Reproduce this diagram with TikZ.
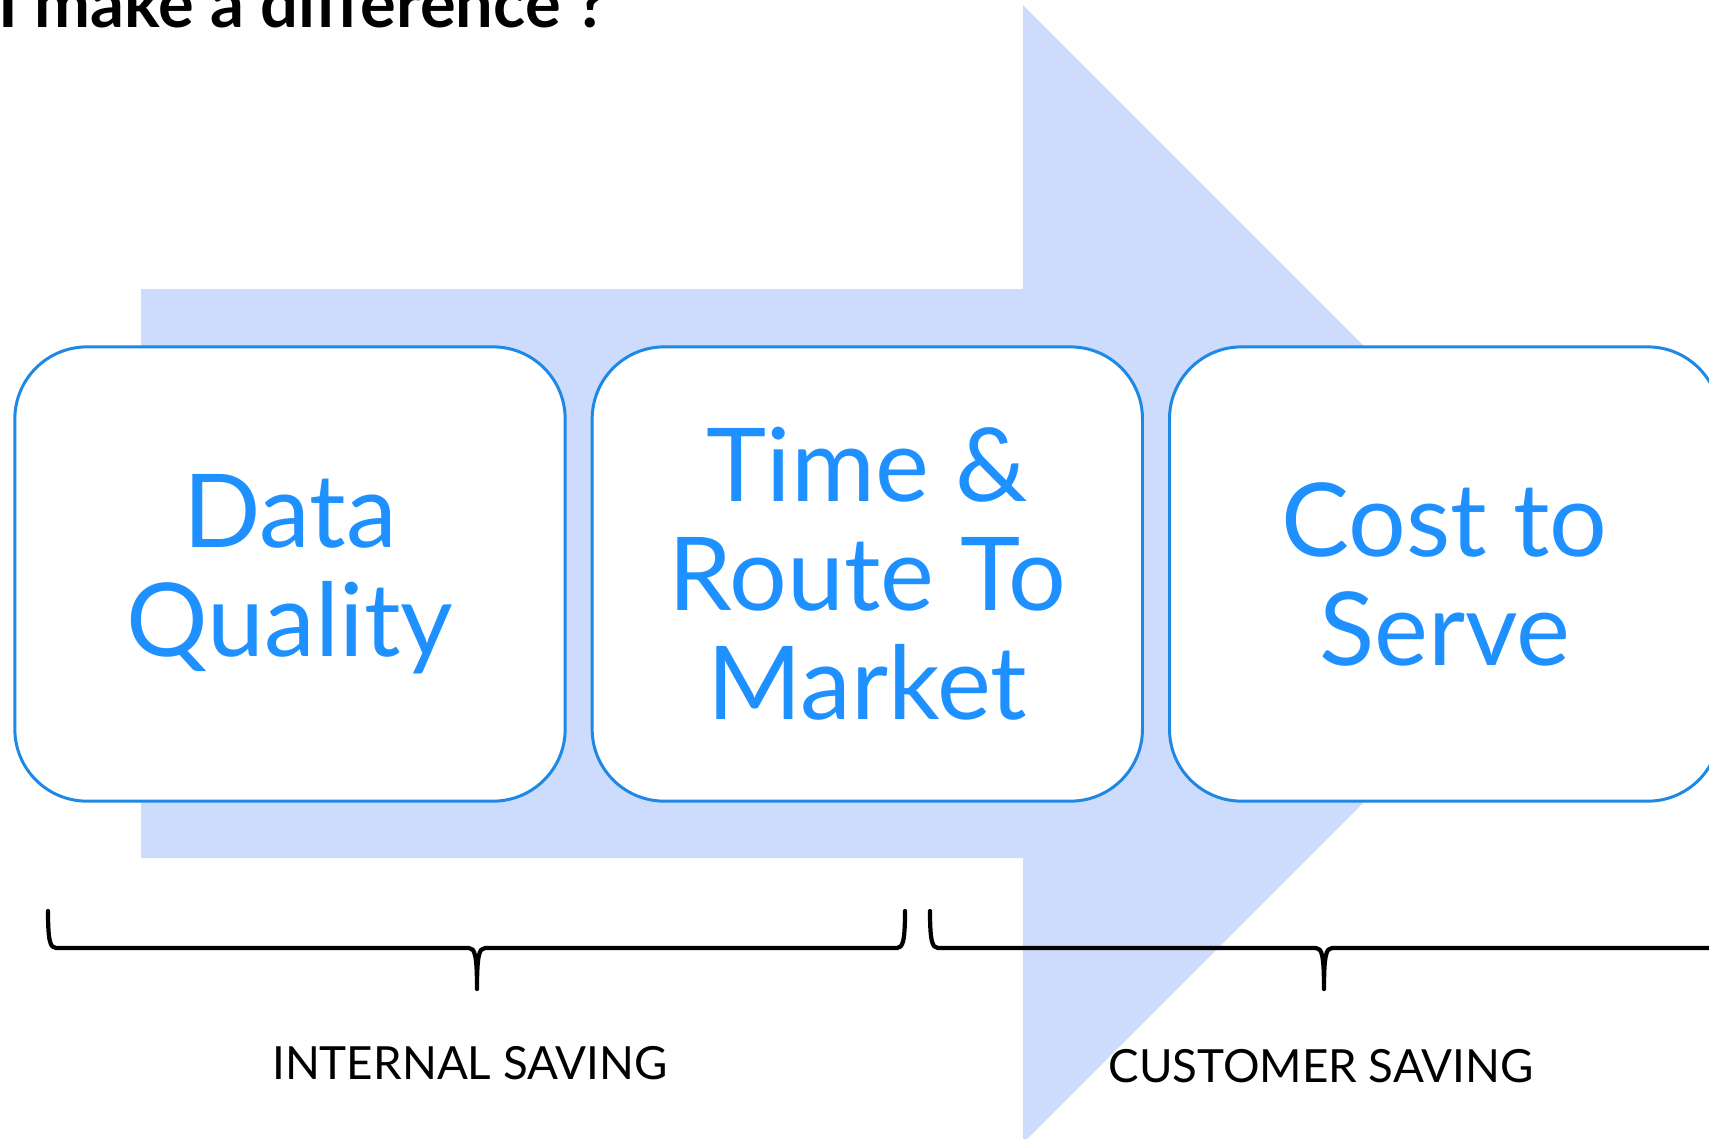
\documentclass[tikz,border=0pt]{standalone}
\usepackage{fontspec}
\setmainfont{Lato}
\usetikzlibrary{positioning}
\definecolor{arrowblue}{RGB}{205,219,253}
\definecolor{frameblue}{RGB}{30,136,229}
\definecolor{textblue}{RGB}{30,144,255}

\begin{document}
\begin{tikzpicture}[x=0.01cm, y=-0.01cm,
        stage/.style={draw=frameblue, line width=0.85pt, fill=white,
            rounded corners=0.72cm, minimum width=5.5cm, minimum height=4.54cm,
            align=center, text=textblue, inner sep=0pt,
            font=\fontsize{29}{31}\selectfont},
        brace/.style={line width=1.2pt, line join=round, line cap=round},
        saving/.style={anchor=base, font=\fontsize{13}{15}\selectfont}]
        \useasboundingbox (0, 0) rectangle (1709, 1138);

        \node[anchor=base west, inner sep=0pt, font=\bfseries\fontsize{19}{21}\selectfont]
            (title) at (-2, 27) {I make a difference ?};

        \fill[arrowblue] (141, 289) -- (1023, 289) -- (1023, 5) -- (1592, 574)
            -- (1023, 1143) -- (1023, 858) -- (141, 858) -- cycle;

        \node[stage] (quality) at (290, 574) {Data\\Quality};
        \node[stage, right=0.24cm of quality] (market) {Time \&\\Route To\\Market};
        \node[stage, right=0.24cm of market] (serve) {Cost to\\Serve};

        \draw[brace] (48, 911) .. controls (48, 940) and (50, 948) .. (56, 948) -- (469, 948)
            .. controls (475, 948) and (477, 956) .. (477, 989)
            .. controls (477, 956) and (479, 948) .. (485, 948) -- (897, 948)
            .. controls (903, 948) and (905, 940) .. (905, 911);
        \draw[brace] (930, 911) .. controls (930, 940) and (932, 948) .. (938, 948) -- (1316, 948)
            .. controls (1322, 948) and (1324, 956) .. (1324, 989)
            .. controls (1324, 956) and (1326, 948) .. (1332, 948) -- (1710, 948)
            .. controls (1716, 948) and (1718, 940) .. (1718, 911);

        \node[saving] (internal) at (470, 1079) {INTERNAL SAVING};
        \node[saving] (customer) at (1321, 1082) {CUSTOMER SAVING};
    \end{tikzpicture}
\end{document}
